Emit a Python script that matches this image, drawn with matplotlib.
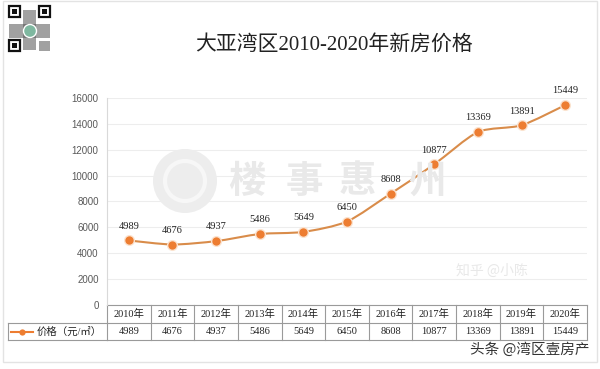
import matplotlib
matplotlib.use("Agg")
import matplotlib.pyplot as plt
from matplotlib.path import Path
from matplotlib.patches import PathPatch, Ellipse, Rectangle
from matplotlib.lines import Line2D
import matplotlib.transforms as mtransforms
import numpy as np

years = ["2010年", "2011年", "2012年", "2013年", "2014年", "2015年",
         "2016年", "2017年", "2018年", "2019年", "2020年"]
prices = [4989, 4676, 4937, 5486, 5649, 6450, 8608, 10877, 13369, 13891, 15449]
series_name = "价格（元/㎡）"
title = "大亚湾区2010-2020年新房价格"
yticks = [0, 2000, 4000, 6000, 8000, 10000, 12000, 14000, 16000]

SERIF = ["Liberation Serif", "Noto Sans CJK SC", "DejaVu Sans"]
SANS = ["Liberation Sans", "Noto Sans CJK SC", "DejaVu Sans"]
CJK = ["Noto Sans CJK SC", "DejaVu Sans"]
ORANGE = "#ED7D31"
LINEC = "#D98C4A"

fig = plt.figure(figsize=(6, 3.69), dpi=100)
W, H = 600, 369
ax = fig.add_axes([107 / W, 1 - 305 / H, 480 / W, 207 / H])

n = len(prices)
x = np.arange(n)
ax.set_xlim(-0.5, n - 0.5)
ax.set_ylim(0, 16000)
ax.set_yticks(yticks)
ax.set_yticklabels([str(t) for t in yticks], fontsize=7, color="#595959", family=SANS)
ax.tick_params(axis="y", length=0, pad=6)
ax.set_xticks([])
for s in ["top", "right", "bottom"]:
    ax.spines[s].set_visible(False)
ax.spines["left"].set_color("#D9D9D9")
ax.grid(axis="y", color="#EDEDED", lw=0.8)
ax.set_axisbelow(True)

# watermark (characters spaced widely, as in the reference)
for ch, cx in zip("楼事惠州", [247, 304, 357, 427]):
    fig.text(cx / W, 1 - 181 / H, ch, ha="center", va="center", fontsize=27,
             fontweight="bold", color="#E9E9E9", family=CJK, zorder=0.5)
ax.add_patch(Ellipse(((185 - 107) / 480, (305 - 181) / 207), 64 / 480, 64 / 207,
                     transform=ax.transAxes, color="#EDEDED", zorder=0.5, lw=0))
ax.add_patch(Ellipse(((185 - 107) / 480, (305 - 181) / 207), 40 / 480, 40 / 207,
                     transform=ax.transAxes, fill=False, ec="#F7F7F7", lw=3, zorder=0.6))
fig.text(0.82, 0.265, "知乎 @小陈", ha="center", va="center", fontsize=10,
         color="#E8E8E8", family=CJK, zorder=0.5)

# smooth line (Catmull-Rom -> cubic Bezier) through data points
pts = np.column_stack([x, prices]).astype(float)
verts = [pts[0]]
codes = [Path.MOVETO]
k = 8.0
for i in range(n - 1):
    p0 = pts[i - 1] if i > 0 else pts[i]
    p1, p2 = pts[i], pts[i + 1]
    p3 = pts[i + 2] if i + 2 < n else pts[i + 1]
    c1 = p1 + (p2 - p0) / k
    c2 = p2 - (p3 - p1) / k
    verts += [c1, c2, p2]
    codes += [Path.CURVE4] * 3
ax.add_patch(PathPatch(Path(verts, codes), fill=False, ec=LINEC, lw=1.5, zorder=3))
ax.plot(x, prices, ls="none", marker="o", ms=8, color="#FBE3CF", zorder=3.5, mew=0)
ax.plot(x, prices, ls="none", marker="o", ms=6, color=ORANGE, zorder=4, mew=0)
for xi, v in zip(x, prices):
    ax.annotate(str(v), (xi, v), xytext=(0, 7), textcoords="offset points",
                ha="center", va="bottom", fontsize=7.5, family=SERIF, color="#222222")

# data table
trans = mtransforms.blended_transform_factory(ax.transData, ax.transAxes)
px = 1.0 / 207
r1 = -18 * px
r2 = -35 * px
gc = "#9A9A9A"
tk = dict(transform=trans, color=gc, lw=0.8, clip_on=False)
edges = np.arange(n + 1) - 0.5
for e in edges:
    ax.add_line(Line2D([e, e], [0, r2], **tk))
ax.add_line(Line2D([edges[0], edges[-1]], [0, 0], **tk))
ax.add_line(Line2D([edges[0], edges[-1]], [r1, r1], **tk))
ax.add_line(Line2D([edges[0], edges[-1]], [r2, r2], **tk))
for xi, yr, v in zip(x, years, prices):
    ax.text(xi, (r1) / 2, yr, transform=trans, ha="center", va="center",
            fontsize=7.5, family=SERIF, color="#222222", clip_on=False)
    ax.text(xi, (r1 + r2) / 2, str(v), transform=trans, ha="center", va="center",
            fontsize=7.5, family=SERIF, color="#222222", clip_on=False)
# legend cell
fl = dict(color=gc, lw=0.8)
y1 = 1 - 323 / H
y2 = 1 - 340 / H
fig.add_artist(Line2D([8 / W, 107 / W], [y1, y1], **fl))
fig.add_artist(Line2D([8 / W, 107 / W], [y2, y2], **fl))
fig.add_artist(Line2D([8 / W, 8 / W], [y1, y2], **fl))
ym = (y1 + y2) / 2
fig.add_artist(Line2D([11 / W, 33 / W], [ym, ym], color=ORANGE, lw=1.5))
fig.add_artist(Line2D([22 / W], [ym], marker="o", ms=4.5, color=ORANGE, mew=0))
fig.text(37 / W, ym, series_name, ha="left", va="center", fontsize=7.5,
         family=SERIF, color="#222222")

# title
fig.text(334 / W, 1 - 45 / H, title, ha="center", va="center", fontsize=15,
         family=SERIF, color="#222222")

# QR-code badge (decorative)
def finder(x0, y0, s):
    fig.add_artist(Rectangle((x0 / W, 1 - (y0 + s) / H), s / W, s / H,
                             fc="white", ec="#111111", lw=1.6))
    fig.add_artist(Rectangle(((x0 + s * 0.3) / W, 1 - (y0 + s * 0.7) / H),
                             s * 0.4 / W, s * 0.4 / H, fc="#111111", ec="none"))
finder(9, 6, 11)
finder(39, 6, 11)
fig.add_artist(Rectangle((23 / W, 1 - 50 / H), 13 / W, 40 / H, fc="#555555",
                         ec="none", alpha=0.55))
fig.add_artist(Rectangle((9 / W, 1 - 38 / H), 41 / W, 14 / H, fc="#555555",
                         ec="none", alpha=0.55))
finder(9, 40, 11)
fig.add_artist(Rectangle((39 / W, 1 - 51 / H), 11 / W, 10 / H, fc="#555555",
                         ec="none", alpha=0.55))
fig.add_artist(Ellipse((30 / W, 1 - 31 / H), 13 / W, 13 / H, fc="#7FB8A0", ec="white", lw=1))

# outer border
fig.add_artist(Rectangle((3 / W, 1 - 362 / H), 594 / W, 361 / H, fill=False,
                         ec="#E3E3E3", lw=1))

# footer
fig.text(589 / W, 1 - 350 / H, "头条 @湾区壹房产", ha="right", va="center",
         fontsize=10.5, family=CJK, color="#333333")

fig.savefig("out.png", dpi=100)
